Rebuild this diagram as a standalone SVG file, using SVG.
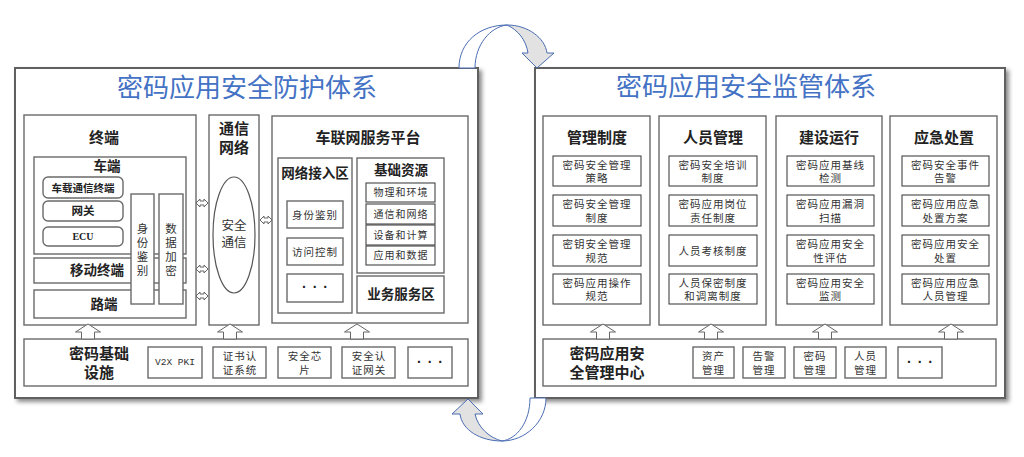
<svg xmlns="http://www.w3.org/2000/svg" width="1024" height="457" viewBox="0 0 1024 457">
<defs>
<filter id="sh" x="-5%" y="-5%" width="110%" height="115%">
<feDropShadow dx="3" dy="3" stdDeviation="2" flood-color="#000" flood-opacity="0.45"/>
</filter>
<path id="up" d="M0,0 L12.5,8 L6.5,8 L6.5,15 L-6.5,15 L-6.5,8 L-12.5,8 Z"/>
<path id="dbl" d="M-6,0 L-2,-4 L-2,-2 L2,-2 L2,-4 L6,0 L2,4 L2,2 L-2,2 L-2,4 Z"/>
</defs>
<style>
text{font-family:'Liberation Sans','Noto Sans CJK SC',sans-serif;text-anchor:middle;dominant-baseline:central;fill:#222}
.panel{fill:#fff;stroke:#606060;stroke-width:2}
.box{fill:#fff;stroke:#6a6a6a;stroke-width:1.4}
.item{fill:#fff;stroke:#444;stroke-width:1.1}
.title{font-size:26px;fill:#4472C4}
.h1{font-size:15px;font-weight:bold}
.h2{font-size:13.5px;font-weight:bold}
.h3{font-size:10.5px;font-weight:bold}
.t{font-size:10.5px;letter-spacing:1px;fill:#333}
.t2{font-size:12.5px;fill:#333}
.mono{font-family:'Liberation Mono',monospace;font-size:9.5px;fill:#333}
.dots{font-size:14px;font-weight:bold;letter-spacing:6px}
.arr{fill:#fff;stroke:#666;stroke-width:1}
.curve{stroke:#4a6db3;stroke-width:1}
</style>

<g id="panel-left">
<rect class="panel" x="15" y="68" width="463" height="330" filter="url(#sh)"/>
<text class="title" x="247" y="88">密码应用安全防护体系</text>
</g>
<g id="panel-right">
<rect class="panel" x="535" y="68" width="470" height="330" filter="url(#sh)"/>
<text class="title" x="746" y="87">密码应用安全监管体系</text>
</g>

<g id="terminal">
<rect class="box" x="24" y="115" width="172" height="210"/>
<text class="h1" x="104" y="137">终端</text>
</g>
<g id="car-end">
<rect class="box" x="34" y="157" width="152" height="97"/>
<text class="h2" x="107" y="166">车端</text>
<rect class="box" x="43" y="177" width="80" height="21" rx="5"/>
<text class="h3" x="83" y="187.5">车载通信终端</text>
<rect class="box" x="43" y="201" width="80" height="20" rx="5"/>
<text class="h3" x="83" y="211" style="font-size:11.5px">网关</text>
<rect class="box" x="43" y="227" width="80" height="19" rx="5"/>
<text class="h3" x="83" y="236.5" style="font-family:'Liberation Serif',serif;font-size:10px">ECU</text>
</g>
<g id="mobile">
<rect class="box" x="34" y="258" width="152" height="25"/>
<text class="h2" x="97" y="270.5">移动终端</text>
</g>
<g id="road">
<rect class="box" x="34" y="290" width="152" height="28"/>
<text class="h2" x="104" y="304">路端</text>
</g>
<g id="auth">
<rect class="box" x="131" y="194" width="23" height="110"/>
<text class="t2" style="font-size:11.5px"><tspan x="142.5" y="229">身</tspan><tspan x="142.5" y="243">份</tspan><tspan x="142.5" y="257">鉴</tspan><tspan x="142.5" y="271">别</tspan></text>
</g>
<g id="encrypt">
<rect class="box" x="159" y="194" width="24" height="110"/>
<text class="t2" style="font-size:11.5px"><tspan x="171" y="229">数</tspan><tspan x="171" y="243">据</tspan><tspan x="171" y="257">加</tspan><tspan x="171" y="271">密</tspan></text>
</g>

<g id="network">
<rect class="box" x="209" y="115" width="50" height="210"/>
<text class="h1" x="234" y="128">通信</text>
<text class="h1" x="234" y="147">网络</text>
<ellipse cx="234" cy="235" rx="21" ry="58" fill="#fff" stroke="#555" stroke-width="1.2"/>
<text class="t2" x="234" y="226">安全</text>
<text class="t2" x="234" y="243">通信</text>
</g>

<g id="platform">
<rect class="box" x="272" y="116" width="196" height="207"/>
<text class="h1" x="368" y="137">车联网服务平台</text>
</g>
<g id="access">
<rect class="box" x="278" y="158" width="74" height="155"/>
<text class="h2" x="315" y="173">网络接入区</text>
<rect class="box" x="287" y="201" width="56" height="27"/>
<text class="t" x="315" y="214.5">身份鉴别</text>
<rect class="box" x="287" y="238" width="56" height="27"/>
<text class="t" x="315" y="251.5">访问控制</text>
<rect class="box" x="287" y="274" width="56" height="28"/>
<text class="dots" x="318" y="287">···</text>
</g>
<g id="resources">
<rect class="box" x="357" y="158" width="87" height="115"/>
<text class="h2" x="401" y="170">基础资源</text>
<rect class="item" x="366" y="183" width="69" height="19"/>
<text class="t" x="401" y="192.5" style="font-size:10px">物理和环境</text>
<rect class="item" x="366" y="204" width="69" height="20"/>
<text class="t" x="401" y="214" style="font-size:10px">通信和网络</text>
<rect class="item" x="366" y="225" width="69" height="20"/>
<text class="t" x="401" y="235" style="font-size:10px">设备和计算</text>
<rect class="item" x="366" y="246" width="69" height="19"/>
<text class="t" x="401" y="255.5" style="font-size:10px">应用和数据</text>
</g>
<g id="business">
<rect class="box" x="357" y="276" width="87" height="37"/>
<text class="h2" x="401" y="294">业务服务区</text>
</g>

<g id="infra">
<rect class="box" x="24" y="339" width="444" height="47"/>
<text class="h1" x="99" y="353">密码基础</text>
<text class="h1" x="99" y="372">设施</text>
<rect class="box" x="148" y="347" width="54" height="31"/>
<text class="mono" x="175" y="362.5">V2X PKI</text>
<rect class="box" x="213" y="347" width="53" height="31"/>
<text class="t"><tspan x="240" y="356">证书认</tspan><tspan x="240" y="369.5">证系统</tspan></text>
<rect class="box" x="278" y="347" width="53" height="31"/>
<text class="t"><tspan x="305" y="356">安全芯</tspan><tspan x="305" y="369.5">片</tspan></text>
<rect class="box" x="342" y="347" width="53" height="31"/>
<text class="t"><tspan x="369" y="356">安全认</tspan><tspan x="369" y="369.5">证网关</tspan></text>
<rect class="box" x="408" y="347" width="44" height="31"/>
<text class="dots" x="433" y="362">···</text>
</g>

<g id="col-policy">
<rect class="box" x="543" y="116" width="107" height="209"/>
<text class="h1" x="597" y="137">管理制度</text>
<rect class="item" x="553" y="156" width="88" height="30"/>
<text class="t"><tspan x="597" y="164.5">密码安全管理</tspan><tspan x="597" y="178">策略</tspan></text>
<rect class="item" x="553" y="195" width="88" height="31"/>
<text class="t"><tspan x="597" y="204">密码安全管理</tspan><tspan x="597" y="217.5">制度</tspan></text>
<rect class="item" x="553" y="235" width="88" height="31"/>
<text class="t"><tspan x="597" y="244">密钥安全管理</tspan><tspan x="597" y="257.5">规范</tspan></text>
<rect class="item" x="553" y="274" width="88" height="30"/>
<text class="t"><tspan x="597" y="282.5">密码应用操作</tspan><tspan x="597" y="296">规范</tspan></text>
</g>
<g id="col-staff">
<rect class="box" x="659" y="116" width="107" height="209"/>
<text class="h1" x="713" y="137">人员管理</text>
<rect class="item" x="669" y="156" width="88" height="30"/>
<text class="t"><tspan x="713" y="164.5">密码安全培训</tspan><tspan x="713" y="178">制度</tspan></text>
<rect class="item" x="669" y="195" width="88" height="31"/>
<text class="t"><tspan x="713" y="204">密码应用岗位</tspan><tspan x="713" y="217.5">责任制度</tspan></text>
<rect class="item" x="669" y="235" width="88" height="31"/>
<text class="t" x="713" y="250.5">人员考核制度</text>
<rect class="item" x="669" y="274" width="88" height="30"/>
<text class="t"><tspan x="713" y="282.5">人员保密制度</tspan><tspan x="713" y="296">和调离制度</tspan></text>
</g>
<g id="col-build">
<rect class="box" x="776" y="116" width="106" height="209"/>
<text class="h1" x="829" y="137">建设运行</text>
<rect class="item" x="787" y="156" width="87" height="30"/>
<text class="t"><tspan x="830.5" y="164.5">密码应用基线</tspan><tspan x="830.5" y="178">检测</tspan></text>
<rect class="item" x="787" y="195" width="87" height="31"/>
<text class="t"><tspan x="830.5" y="204">密码应用漏洞</tspan><tspan x="830.5" y="217.5">扫描</tspan></text>
<rect class="item" x="787" y="235" width="87" height="31"/>
<text class="t"><tspan x="830.5" y="244">密码应用安全</tspan><tspan x="830.5" y="257.5">性评估</tspan></text>
<rect class="item" x="787" y="274" width="87" height="30"/>
<text class="t"><tspan x="830.5" y="282.5">密码应用安全</tspan><tspan x="830.5" y="296">监测</tspan></text>
</g>
<g id="col-emergency">
<rect class="box" x="890" y="116" width="107" height="209"/>
<text class="h1" x="944" y="137">应急处置</text>
<rect class="item" x="902" y="156" width="87" height="30"/>
<text class="t"><tspan x="945.5" y="164.5">密码安全事件</tspan><tspan x="945.5" y="178">告警</tspan></text>
<rect class="item" x="902" y="195" width="87" height="31"/>
<text class="t"><tspan x="945.5" y="204">密码应用应急</tspan><tspan x="945.5" y="217.5">处置方案</tspan></text>
<rect class="item" x="902" y="235" width="87" height="31"/>
<text class="t"><tspan x="945.5" y="244">密码应用安全</tspan><tspan x="945.5" y="257.5">处置</tspan></text>
<rect class="item" x="902" y="274" width="87" height="30"/>
<text class="t"><tspan x="945.5" y="282.5">密码应用应急</tspan><tspan x="945.5" y="296">人员管理</tspan></text>
</g>

<g id="mgmt-center">
<rect class="box" x="543" y="339" width="453" height="47"/>
<text class="h1" x="607" y="353">密码应用安</text>
<text class="h1" x="607" y="372">全管理中心</text>
<rect class="box" x="693" y="347" width="41" height="31"/>
<text class="t"><tspan x="713.5" y="356">资产</tspan><tspan x="713.5" y="369.5">管理</tspan></text>
<rect class="box" x="743" y="347" width="42" height="31"/>
<text class="t"><tspan x="764" y="356">告警</tspan><tspan x="764" y="369.5">管理</tspan></text>
<rect class="box" x="794" y="347" width="42" height="31"/>
<text class="t"><tspan x="815" y="356">密码</tspan><tspan x="815" y="369.5">管理</tspan></text>
<rect class="box" x="845" y="347" width="41" height="31"/>
<text class="t"><tspan x="865.5" y="356">人员</tspan><tspan x="865.5" y="369.5">管理</tspan></text>
<rect class="box" x="898" y="347" width="44" height="31"/>
<text class="dots" x="923" y="362">···</text>
</g>

<g id="connectors">
<use href="#up" class="arr" x="88" y="324"/>
<use href="#up" class="arr" x="230" y="324"/>
<use href="#up" class="arr" x="357" y="324"/>
<use href="#up" class="arr" x="603" y="324"/>
<use href="#up" class="arr" x="711" y="324"/>
<use href="#up" class="arr" x="825" y="324"/>
<use href="#up" class="arr" x="951" y="324"/>
<use href="#dbl" class="arr" x="202" y="203"/>
<use href="#dbl" class="arr" x="202" y="269"/>
<use href="#dbl" class="arr" x="202" y="296"/>
<use href="#dbl" class="arr" x="266" y="220"/>
<path class="curve" fill="#fff" d="M459,68 C459,42 480,25 507,25 C490,27 475,45 475,68 Z"/>
<path class="curve" fill="#e2e2e2" d="M507,25 C528,25 545,38 547,53 L554,53 L537,68 L522,53 L528,53 C526,40 518,30 507,25 Z"/>
<path class="curve" fill="#fff" d="M546,398 C546,422 525,441 502,441 C517,439 530,422 530,398 Z"/>
<path class="curve" fill="#e2e2e2" d="M502,441 C480,441 462,430 460,414 L452,414 L468,399 L483,414 L475,414 C478,428 490,438 502,441 Z"/>
</g>
</svg>
